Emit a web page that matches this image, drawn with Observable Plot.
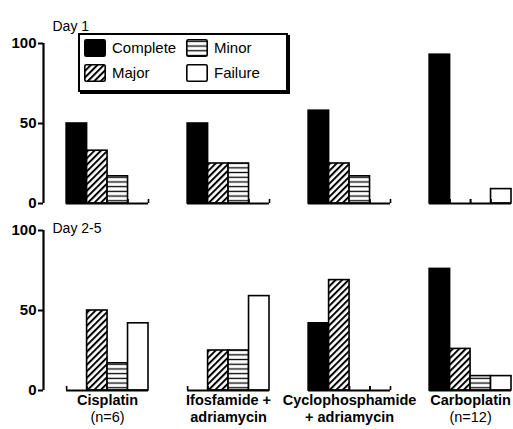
<!DOCTYPE html>
<html><head><meta charset="utf-8">
<script src="https://cdn.jsdelivr.net/npm/d3@7"></script>
<script src="https://cdn.jsdelivr.net/npm/@observablehq/plot@0.6"></script>
<style>
body{margin:0;background:#fff;font-family:"Liberation Sans",Arial,sans-serif;}
#wrap{position:relative;width:513px;height:429px;}
#legend{position:absolute;left:78px;top:33px;width:206px;height:55px;border:2px solid #000;box-shadow:2px 2px 0 #000;background:#fff;}
.item{position:absolute;display:flex;align-items:center;font-size:15px;height:17px;}
.item svg{margin-right:6px;}
</style></head><body>
<svg width="0" height="0" style="position:absolute">
<defs>
<pattern id="diag" patternUnits="userSpaceOnUse" width="4.6" height="4.6" patternTransform="rotate(45)">
<rect width="4.6" height="4.6" fill="white"/>
<line x1="1" y1="0" x2="1" y2="4.6" stroke="black" stroke-width="2"/>
</pattern>
<pattern id="horiz" patternUnits="userSpaceOnUse" width="10" height="4.7">
<rect width="10" height="4.7" fill="white"/>
<line x1="0" y1="2.35" x2="10" y2="2.35" stroke="black" stroke-width="1.3"/>
</pattern>
</defs></svg>
<div id="wrap"><div id="legend"></div></div>
<script>
const groups = ["Cisplatin", "Ifosfamide", "Cyclophosphamide", "Carboplatin"];
const groupLine1 = ["Cisplatin", "Ifosfamide +", "Cyclophosphamide", "Carboplatin"];
const groupLine2 = ["(n=6)", "adriamycin", "+ adriamycin", "(n=12)"];
const days = ["Day 1", "Day 2-5"];
const series = ["Complete", "Major", "Minor", "Failure"];
// values per group, in series order
const day1Values = [[50, 33, 17, 0], [50, 25, 25, 0], [58, 25, 17, 0], [93, 0, 0, 9]];
const day25Values = [[0, 50, 17, 42], [0, 25, 25, 59], [42, 69, 0, 0], [76, 26, 9, 9]];
const yTicks = [0, 50, 100];
const seriesFill = ["black", "url(#diag)", "url(#horiz)", "white"];

const valuesByDay = [day1Values, day25Values];
const rows = [];
days.forEach((day, di) => groups.forEach((group, gi) => series.forEach((s, j) => {
  rows.push({day, group, series: s, j, value: valuesByDay[di][gi][j]});
})));
const nBars = series.length;
const xMin = -1.13;
const yMax = yTicks[yTicks.length - 1];
const baseRows = [];
days.forEach(day => groups.forEach(group => baseRows.push({day, group})));
const zeroEdges = [];
rows.filter(r => r.value === 0).forEach(r => {
  zeroEdges.push({day: r.day, group: r.group, x: r.j, value: r.value});
  zeroEdges.push({day: r.day, group: r.group, x: r.j + 1, value: r.value});
});
const axisRows = days.map(day => ({day, group: groups[0]}));
const dayRows = days.map(day => ({day, group: groups[0]}));
const labelRows = groups.map((g, i) => ({group: g, day: days[1], l1: groupLine1[i], l2: groupLine2[i]}));

const chart = Plot.plot({
  width: 513, height: 429,
  marginTop: 42, marginBottom: 38, marginLeft: 41, marginRight: 1,
  style: {fontFamily: '"Liberation Sans", Arial, sans-serif', fontSize: "14px", color: "black", background: "white"},
  x: {domain: [xMin, nBars], axis: null},
  y: {domain: [0, yMax]},
  fx: {domain: groups, paddingInner: 0.133, paddingOuter: 0, axis: null},
  fy: {domain: days, paddingInner: 0.1436, paddingOuter: 0, axis: null},
  marks: [
    Plot.ruleX(axisRows, {fx: "group", fy: "day", x: () => xMin, y1: () => 0, y2: () => yMax, strokeWidth: 2.2, stroke: "black"}),
    ...series.map((s, j) => Plot.rect(rows.filter(r => r.j === j && r.value > 0), {
      fx: "group", fy: "day", x1: "j", x2: r => r.j + 1, y1: () => 0, y2: "value",
      fill: seriesFill[j], stroke: "black", strokeWidth: 1.6
    })),
    Plot.ruleY(baseRows, {fx: "group", fy: "day", y: () => 0, x1: () => 0, x2: () => nBars, strokeWidth: 2}),
    Plot.ruleX(zeroEdges, {fx: "group", fy: "day", x: "x", y1: "value", y2: "value", insetTop: -4, strokeWidth: 1.6}),
    Plot.axisY(yTicks, {tickSize: 5, tickPadding: 2, fontSize: 15, fontWeight: "bold", strokeWidth: 2, label: null}),
    Plot.text(dayRows.filter(r => r.day === days[0]), {fx: "group", fy: "day", text: "day", frameAnchor: "top-left", textAnchor: "start", dx: 9, dy: -22, fontSize: 14}),
    Plot.text(dayRows.filter(r => r.day === days[1]), {fx: "group", fy: "day", text: "day", frameAnchor: "top-left", textAnchor: "start", dx: 9, dy: -7, fontSize: 14}),
    Plot.text(labelRows, {fx: "group", fy: "day", x: () => nBars / 2, frameAnchor: "bottom", text: "l1", dy: 14, fontWeight: "bold", fontSize: 14.5}),
    Plot.text(labelRows.filter(r => !r.l2.startsWith("(")), {fx: "group", fy: "day", x: () => nBars / 2, frameAnchor: "bottom", text: "l2", dy: 31, fontWeight: "bold", fontSize: 14.5}),
    Plot.text(labelRows.filter(r => r.l2.startsWith("(")), {fx: "group", fy: "day", x: () => nBars / 2, frameAnchor: "bottom", text: "l2", dy: 31, fontSize: 14.5})
  ]
});
const wrap = document.getElementById("wrap");
wrap.insertBefore(chart, wrap.firstChild);

const legend = document.getElementById("legend");
series.forEach((s, j) => {
  const col = Math.floor(j / 2), row = j % 2;
  const item = document.createElement("div");
  item.className = "item";
  item.style.left = (4 + col * 102) + "px";
  item.style.top = (4 + row * 25) + "px";
  item.innerHTML = `<svg width="22" height="18"><rect x="0.8" y="0.8" width="20.4" height="16.4" rx="1.5" fill="${seriesFill[j]}" stroke="black" stroke-width="1.6"/></svg><span>${s}</span>`;
  legend.appendChild(item);
});
</script>
</body></html>
